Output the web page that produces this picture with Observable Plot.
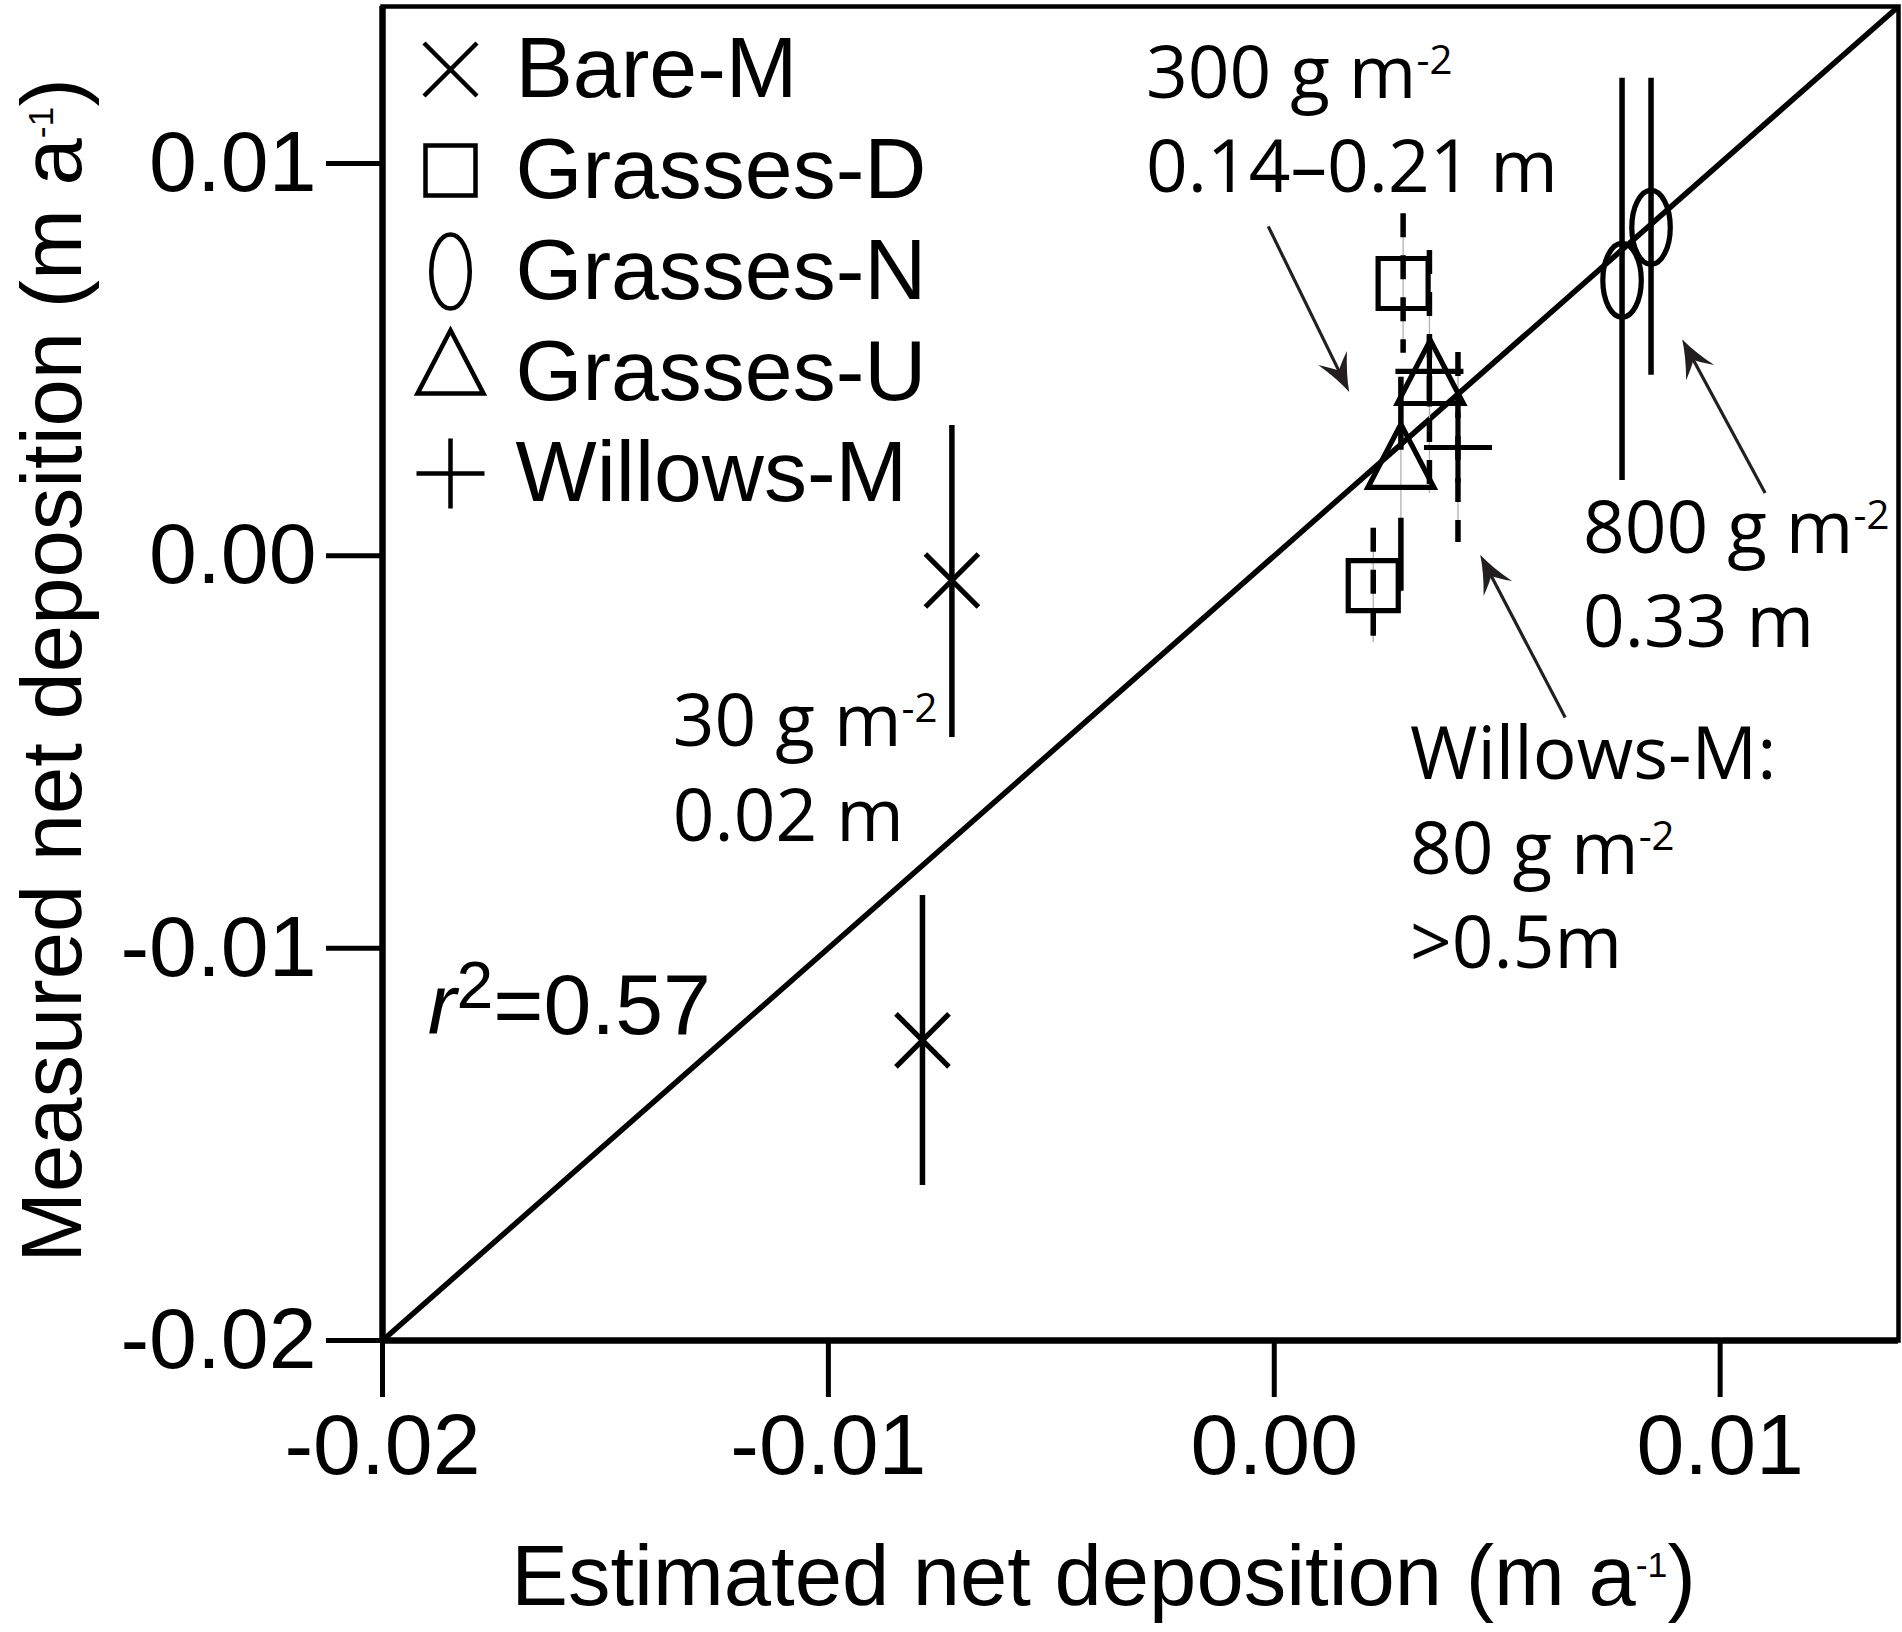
<!DOCTYPE html>
<html>
<head>
<meta charset="utf-8">
<script src="https://cdn.jsdelivr.net/npm/d3@7"></script>
<script src="https://cdn.jsdelivr.net/npm/@observablehq/plot@0.6"></script>
<style>
  html, body { margin: 0; padding: 0; background: #fff; }
  #chart { position: relative; width: 1902px; height: 1632px; }
  #chart svg { position: absolute; left: 0; top: 0; overflow: visible; }
</style>
</head>
<body>
<div id="chart"></div>
<script>
// ---- data -------------------------------------------------------------
// Series, in legend order
const series = ["Bare-M", "Grasses-D", "Grasses-N", "Grasses-U", "Willows-M"];

// Estimated (x) vs measured (y) net deposition, m a^-1; lo/hi = measured range
const bareM = [
  {x: -0.00723, y: -0.00063, lo: -0.00463, hi: 0.00332},
  {x: -0.00789, y: -0.01235, lo: -0.01605, hi: -0.00866}
];
const grassesD = [
  {x: 0.00289, y: 0.00694, lo: 0.00516, hi: 0.00872},
  {x: 0.00222, y: -0.00076, lo: -0.00221, hi: 0.00070}
];
const grassesN = [
  {x: 0.00780, y: 0.00702, lo: 0.00192, hi: 0.01217},
  {x: 0.00845, y: 0.00837, lo: 0.00460, hi: 0.01217}
];
const grassesU = [
  {x: 0.00350, y: 0.00442, lo: null, hi: null},
  {x: 0.00284, y: 0.00228, lo: -0.00094, hi: 0.00455}
];
const willowsM = [
  {x: 0.00348, y: 0.00470, lo: 0.00159, hi: 0.00778},
  {x: 0.00412, y: 0.00276, lo: 0.00034, hi: 0.00518}
];

const xTicks = [-0.02, -0.01, 0.00, 0.01];
const yTicks = [-0.02, -0.01, 0.00, 0.01];

// Annotations (anchored at the baseline of their last line)
const notes = [
  {x: -0.002875, y: 0.00926, text: "300 g m^-2\n0.14–0.21 m"},
  {x: 0.006926, y: -0.002337, text: "800 g m^-2\n0.33 m"},
  {x: 0.003045, y: -0.010518, text: "Willows-M:\n80 g m^-2\n>0.5m"},
  {x: -0.013488, y: -0.00727, text: "30 g m^-2\n0.02 m"}
];
const fitNote = [{x: -0.018984, y: -0.01218, text: "*r*^^2=0.57"}];

// Arrows from the annotations to the points they describe (tail -> tip)
const arrows = [
  {x1: -0.000135, y1: 0.008397, x2: 0.001682, y2: 0.004173},
  {x1: 0.011009, y1: 0.001603, x2: 0.009148, y2: 0.005522},
  {x1: 0.006525, y1: -0.004122, x2: 0.004619, y2: 0.000025}
];

// ---- layout & style ---------------------------------------------------
const W = 1902, H = 1632;
const M = {top: 6, right: 4, bottom: 292, left: 382};
const xDomain = [-0.02, 0.014], yDomain = [-0.02, 0.014];
const kx = (W - M.left - M.right) / (xDomain[1] - xDomain[0]);
const ky = (H - M.top - M.bottom) / (yDomain[1] - yDomain[0]);

const SANS = "'Liberation Sans', Arial, Helvetica, sans-serif";
const NOTE = "'Open Sans', 'Noto Sans', sans-serif";
const ink = "#000";
const arrowInk = "#231f20";
const fmt = d => d.toFixed(2);

// Marker shapes; k is the dot radius
const sym = f => ({draw(c, size) { f(c, Math.sqrt(size / Math.PI)); }});
const symbols = {
  "Bare-M": sym((c, k) => { c.moveTo(-k, -k); c.lineTo(k, k); c.moveTo(-k, k); c.lineTo(k, -k); }),
  "Grasses-D": sym((c, k) => { c.rect(-k, -k, 2 * k, 2 * k); }),
  "Grasses-N": sym((c, k) => {
    const a = 0.52 * k, b = k, m = 0.5523;
    c.moveTo(0, -b);
    c.bezierCurveTo(m * a, -b, a, -m * b, a, 0);
    c.bezierCurveTo(a, m * b, m * a, b, 0, b);
    c.bezierCurveTo(-m * a, b, -a, m * b, -a, 0);
    c.bezierCurveTo(-a, -m * b, -m * a, -b, 0, -b);
    c.closePath();
  }),
  "Grasses-U": sym((c, k) => {
    const h = 1.92 * k;  // centred on the centroid
    c.moveTo(0, -2 * h / 3); c.lineTo(k, h / 3); c.lineTo(-k, h / 3); c.closePath();
  }),
  "Willows-M": sym((c, k) => { c.moveTo(-k, 0); c.lineTo(k, 0); c.moveTo(0, -1.03 * k); c.lineTo(0, 1.03 * k); })
};
const radius = {"Bare-M": 26.5, "Grasses-D": 25, "Grasses-N": 37, "Grasses-U": 33, "Willows-M": 34};
const seriesData = {"Bare-M": bareM, "Grasses-D": grassesD, "Grasses-N": grassesN, "Grasses-U": grassesU, "Willows-M": willowsM};

// Error-bar dash patterns per series (null = solid)
const barDash = {"Bare-M": null, "Grasses-N": null, "Grasses-D": "24,18", "Grasses-U": "24,18", "Willows-M": "24,18"};
const barDashOverride = {"Grasses-U:1": "73,68"};

const bars = series.flatMap(s => seriesData[s].map((d, i) => ({...d, key: `${s}:${i}`, s})))
  .filter(d => d.lo != null && d.hi != null)
  .map(d => ({...d, dash: barDashOverride[d.key] ?? barDash[d.s]}));
const dashGroups = d3.groups(bars, d => d.dash);

// Arrow geometry in screen space
function arrowHead(a) {
  const ang = Math.atan2(-(a.y2 - a.y1) * ky, (a.x2 - a.x1) * kx);
  const ca = Math.cos(ang), sa = Math.sin(ang);
  const P = (x, y) => [x * ca - y * sa, x * sa + y * ca];
  const L = 38, Hh = 16, N = 0.62 * L;
  return {draw(c) {
    c.moveTo(...P(0, 0));
    c.quadraticCurveTo(...P(-0.45 * L, -0.3 * Hh), ...P(-L, -Hh));
    c.quadraticCurveTo(...P(-0.74 * L, -0.22 * Hh), ...P(-N, 0));
    c.quadraticCurveTo(...P(-0.74 * L, 0.22 * Hh), ...P(-L, Hh));
    c.quadraticCurveTo(...P(-0.45 * L, 0.3 * Hh), ...P(0, 0));
    c.closePath();
  }};
}
const shafts = arrows.map(a => {
  const dx = (a.x2 - a.x1) * kx, dy = -(a.y2 - a.y1) * ky, len = Math.hypot(dx, dy);
  const back = 18;
  return {x1: a.x1, y1: a.y1, x2: a.x2 - (dx / len) * back / kx, y2: a.y2 + (dy / len) * back / ky};
});

// ---- main chart --------------------------------------------------------
const chart = Plot.plot({
  width: W, height: H,
  marginTop: M.top, marginRight: M.right, marginBottom: M.bottom, marginLeft: M.left,
  x: {domain: xDomain},
  y: {domain: yDomain},
  style: {fontFamily: SANS, fontSize: "86px", color: ink, background: "white"},
  marks: [
    Plot.frame({stroke: ink, strokeWidth: 4.5}),
    Plot.ruleX([xDomain[0]], {stroke: ink, strokeWidth: 6.5}),
    Plot.ruleY([yDomain[0]], {stroke: ink, strokeWidth: 6.5}),
    Plot.axisX({ticks: xTicks, tickFormat: fmt, tickSize: 57, tickPadding: 15, strokeWidth: 5, fontSize: 86, fontFamily: SANS, label: null}),
    Plot.axisY({ticks: yTicks, tickFormat: fmt, tickSize: 56, tickPadding: 10, strokeWidth: 5, fontSize: 86, fontFamily: SANS, label: null}),
    // 1:1 line
    Plot.link([{x1: xDomain[0], y1: yDomain[0], x2: xDomain[1], y2: yDomain[1]}],
      {x1: "x1", y1: "y1", x2: "x2", y2: "y2", stroke: ink, strokeWidth: 5.5}),
    // thin guide under dashed error bars
    Plot.ruleX(bars.filter(d => d.dash), {x: "x", y1: "hi", y2: "lo", stroke: "#b0b0b0", strokeWidth: 1.3}),
    // error bars
    ...dashGroups.map(([dash, rows]) =>
      Plot.ruleX(rows, {x: "x", y1: "hi", y2: "lo", stroke: ink, strokeWidth: 5.5,
        ...(dash ? {strokeDasharray: dash} : {})})),
    // markers
    ...series.map(s => Plot.dot(seriesData[s], {x: "x", y: "y", symbol: symbols[s], r: radius[s],
      fill: "none", stroke: ink, strokeWidth: 5.2})),
    // arrows
    Plot.link(shafts, {x1: "x1", y1: "y1", x2: "x2", y2: "y2", stroke: arrowInk, strokeWidth: 3.2}),
    ...arrows.map(a => Plot.dot([a], {x: "x2", y: "y2", symbol: arrowHead(a), r: 1, fill: arrowInk, stroke: "none"})),
    // annotations
    Plot.text(notes, {x: "x", y: "y", text: "text", textAnchor: "start", lineAnchor: "bottom",
      lineHeight: 1.3, fontSize: 73, fontFamily: NOTE, fill: ink}),
    Plot.text(fitNote, {x: "x", y: "y", text: "text", textAnchor: "start", lineAnchor: "bottom",
      fontSize: 86, fontFamily: SANS, fill: ink}),
    // axis titles
    Plot.text(["Estimated net deposition (m a^-1)"], {frameAnchor: "bottom", dx: -37, dy: 264,
      textAnchor: "middle", lineAnchor: "bottom", fontSize: 85, fontFamily: SANS, fill: ink}),
    Plot.text(["Measured net deposition (m a^-1)"], {frameAnchor: "left", dx: -302, dy: -3, rotate: -90,
      textAnchor: "middle", lineAnchor: "bottom", fontSize: 85, fontFamily: SANS, fill: ink})
  ]
});

// ---- legend (inside the frame, top left) ------------------------------
const legend = Plot.plot({
  width: 1000, height: 560, margin: 0,
  y: {type: "point", domain: series, range: [68, 473], padding: 0, axis: null},
  style: {fontFamily: SANS, background: "transparent"},
  marks: [
    ...series.map(s => Plot.dot([s], {y: d => d, frameAnchor: "left", dx: 450, symbol: symbols[s],
      r: radius[s], fill: "none", stroke: ink, strokeWidth: 4.5})),
    Plot.text(series, {y: d => d, text: d => d, frameAnchor: "left", dx: 515, textAnchor: "start",
      lineAnchor: "middle", fontSize: 86, fontFamily: SANS, fill: ink})
  ]
});

// ---- rich text: *italic*, ^sup, ^^large sup ---------------------------
function inherited(el, name) {
  for (let n = el; n && n.getAttribute; n = n.parentNode) {
    const v = n.getAttribute(name);
    if (v) return v;
  }
  return null;
}
function richText(svg) {
  const leaves = [...svg.querySelectorAll("text, tspan")].filter(el => el.children.length === 0);
  for (const el of leaves) {
    const s = el.textContent;
    if (!/[\^*]/.test(s)) continue;
    const size = parseFloat(inherited(el, "font-size")) || 86;
    const fam = inherited(el, "font-family") || "";
    const small = fam.includes("Open Sans") ? {scale: 0.55, rise: 0.33} : {scale: 0.42, rise: 0.33};
    const large = {scale: 0.77, rise: 0.30};
    el.textContent = "";
    const re = /(\*[^*]+\*)|(\^\^[-\d]+)|(\^[-\d]+)|([^*^]+)/g;
    let m;
    while ((m = re.exec(s))) {
      const t = document.createElementNS("http://www.w3.org/2000/svg", "tspan");
      if (m[1]) { t.textContent = m[1].slice(1, -1); t.setAttribute("font-style", "italic"); }
      else if (m[2] || m[3]) {
        const spec = m[2] ? large : small;
        t.textContent = (m[2] || m[3]).replace(/^\^+/, "");
        t.setAttribute("font-size", `${(size * spec.scale).toFixed(1)}px`);
        t.style.baselineShift = `${(size * spec.rise).toFixed(1)}px`;
      } else t.textContent = m[4];
      el.appendChild(t);
    }
  }
}

const root = document.getElementById("chart");
root.appendChild(chart);
root.appendChild(legend);
richText(chart);
richText(legend);
</script>
</body>
</html>
